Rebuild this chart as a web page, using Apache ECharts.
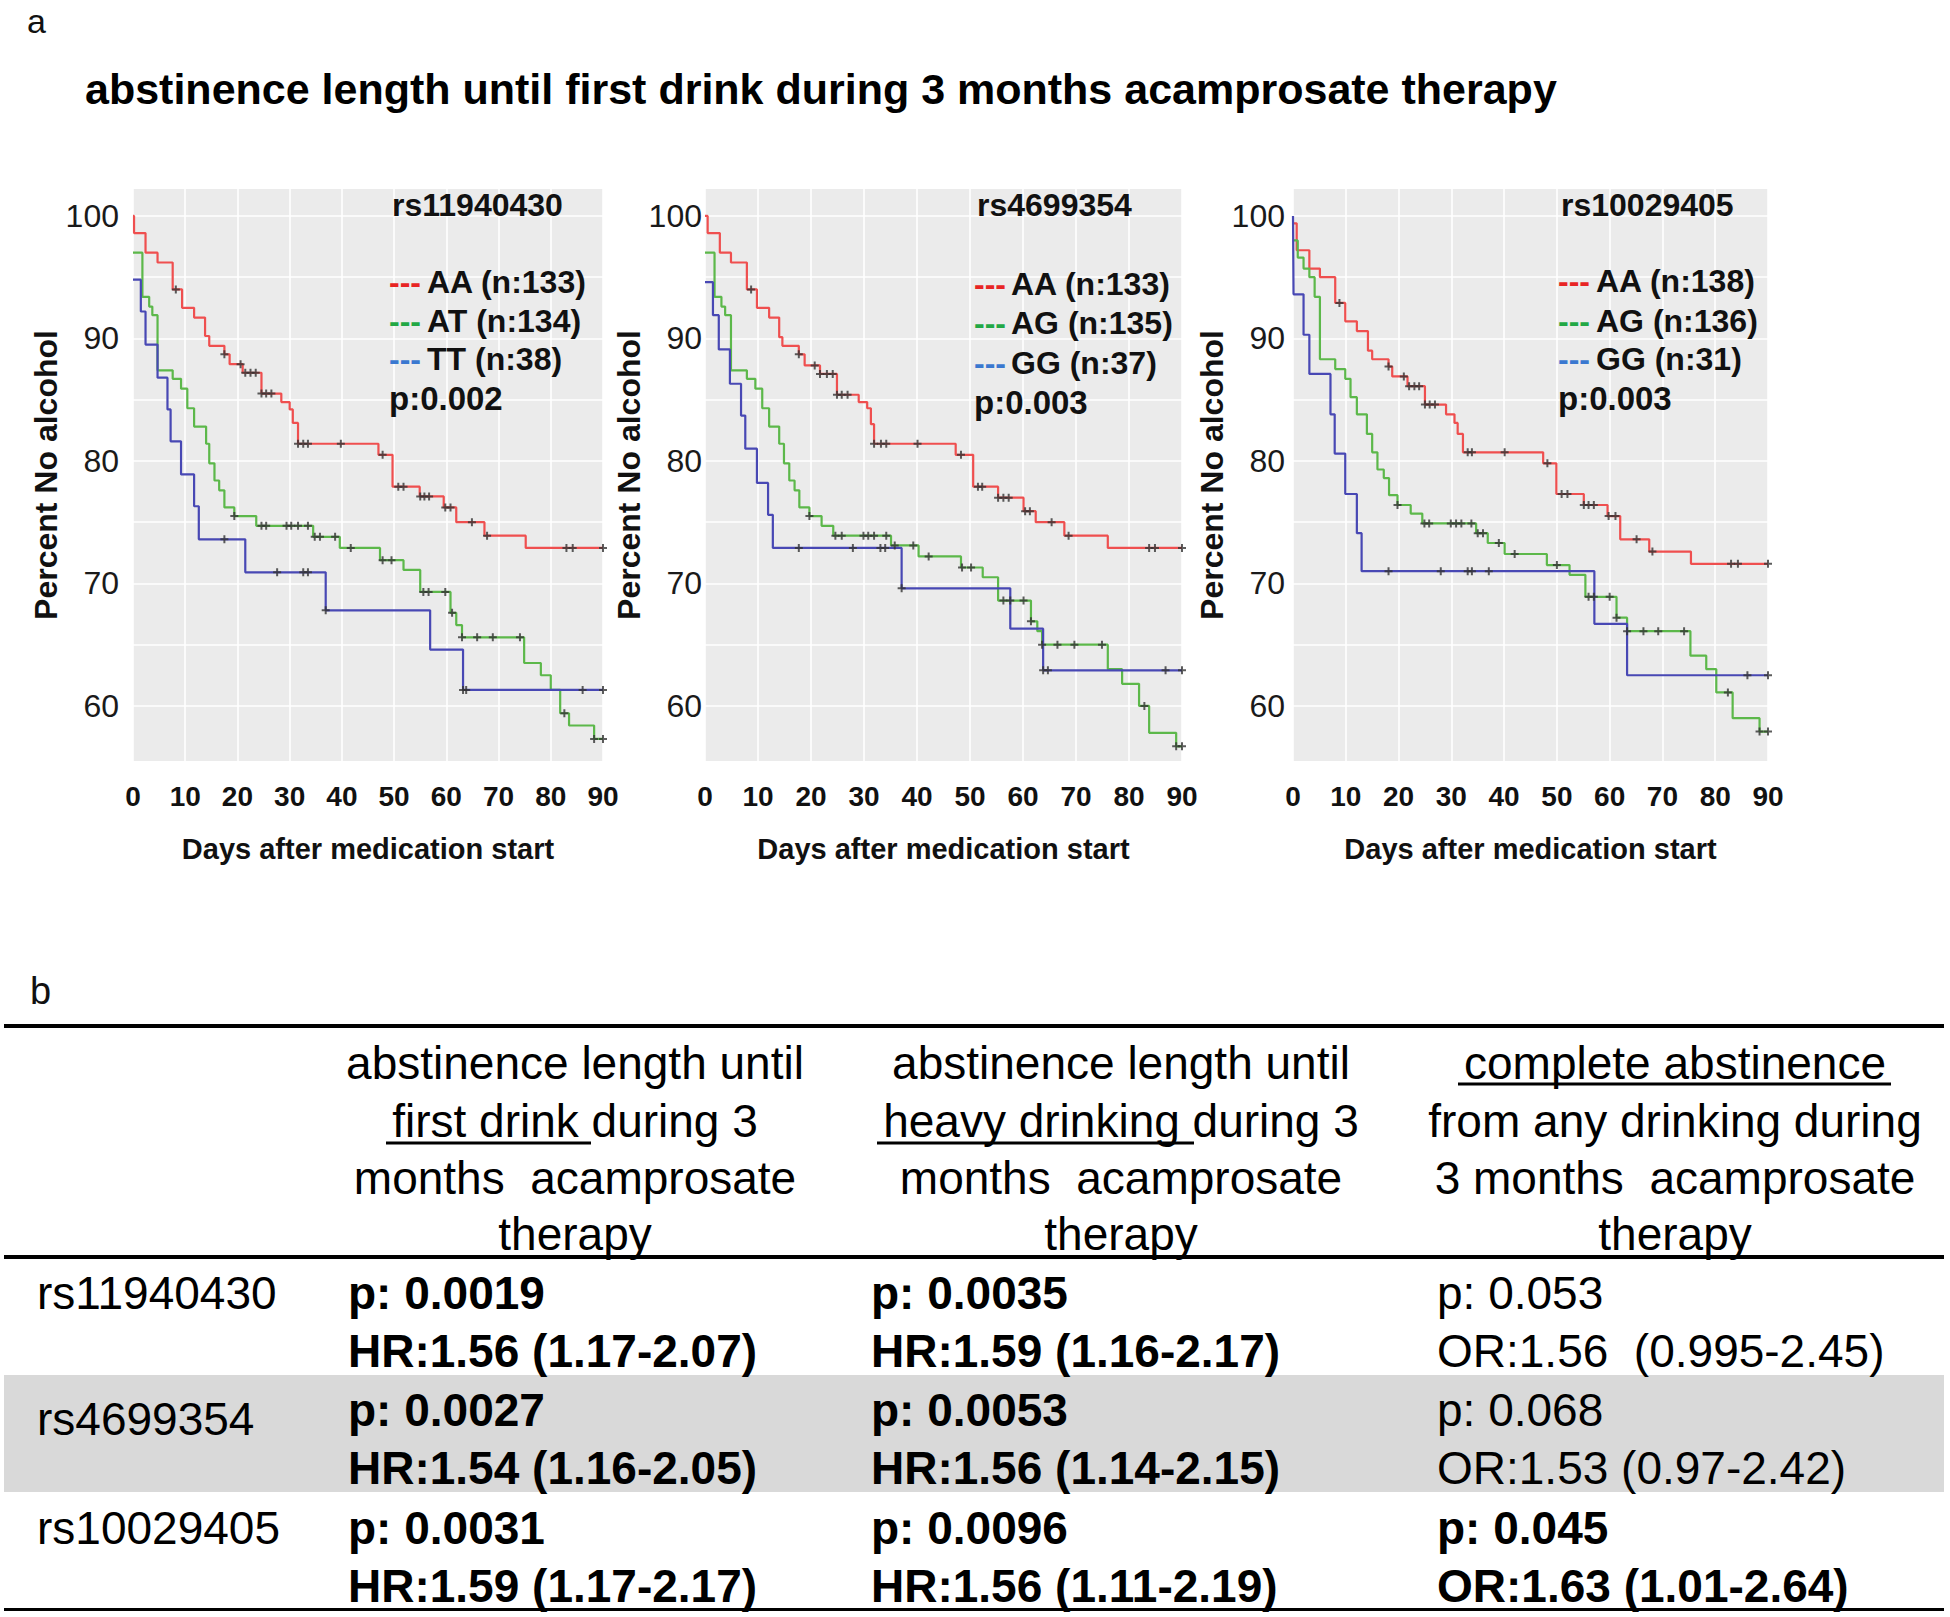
<!DOCTYPE html>
<html>
<head>
<meta charset="utf-8">
<title>abstinence length until first drink</title>
<script src="https://cdn.jsdelivr.net/npm/echarts@6/dist/echarts.min.js"></script>
<style>
  html, body { margin: 0; padding: 0; background: #fff; }
  #chart { width: 1950px; height: 1617px; }
</style>
</head>
<body>
<div id="chart"></div>
<script>
// ---------- panel a : Kaplan-Meier curves ----------
const snpNames = ["rs11940430", "rs4699354", "rs10029405"];
const genotypeLabels = [
  ["AA (n:133)", "AT (n:134)", "TT (n:38)"],
  ["AA (n:133)", "AG (n:135)", "GG (n:37)"],
  ["AA (n:138)", "AG (n:136)", "GG (n:31)"]
];
const logrankP = ["p:0.002", "p:0.003", "p:0.003"];
const yTickLabels = [60, 70, 80, 90, 100];
const yGridValues = [60, 65, 70, 75, 80, 85, 90, 95, 100];

// rs11940430
const rs1_AA_days = [0, 0.2, 2.4, 4.7, 7.6, 9.4, 11.7, 13.8, 14.6, 17.5, 18.5, 21.0, 24.6, 28.4, 30.0, 30.6, 31.6, 47.0, 49.7, 54.9, 59.5, 61.9, 67.3, 75.2, 90];
const rs1_AA_pct = [100, 98.6, 97.0, 96.2, 94.0, 92.5, 91.7, 90.2, 89.4, 88.7, 87.9, 87.2, 85.5, 84.8, 84.2, 83.1, 81.4, 80.5, 77.9, 77.1, 76.2, 75.0, 73.9, 72.9, 72.9];
const rs1_AA_cens = [8.2, 17.5, 20.6, 21.5, 22.5, 23.5, 24.6, 25.5, 26.5, 31.6, 32.6, 33.5, 39.8, 47.8, 50.8, 51.8, 55.0, 55.8, 56.7, 59.8, 60.8, 64.9, 67.8, 83.0, 84.2, 90];
const rs1_AT_days = [0, 1.8, 3.1, 3.7, 4.7, 7.6, 9.2, 10.4, 11.7, 14.0, 14.6, 15.6, 16.5, 17.5, 19.4, 23.6, 34.5, 39.6, 47.3, 51.8, 55.0, 60.8, 61.9, 63.0, 74.9, 78.1, 80.0, 81.8, 83.5, 88.3, 90];
const rs1_AT_pct = [97.0, 93.4, 92.6, 91.9, 87.4, 86.7, 85.9, 84.3, 82.8, 81.4, 79.8, 78.4, 77.6, 76.2, 75.5, 74.7, 73.8, 72.9, 71.9, 71.1, 69.3, 67.6, 66.6, 65.6, 63.5, 62.5, 61.3, 59.4, 58.4, 57.3, 57.3];
const rs1_AT_cens = [19.4, 24.6, 25.5, 29.4, 30.3, 31.6, 33.5, 34.8, 35.8, 38.7, 41.7, 47.8, 49.5, 55.6, 56.6, 59.8, 61.1, 63.0, 65.9, 68.9, 74.1, 82.6, 88.3, 90];
const rs1_TT_days = [0, 1.5, 2.4, 4.7, 6.6, 7.2, 9.2, 11.7, 12.6, 21.5, 36.9, 56.9, 63.2, 90];
const rs1_TT_pct = [94.8, 92.2, 89.5, 86.8, 84.2, 81.6, 78.9, 76.3, 73.6, 70.9, 67.8, 64.6, 61.3, 61.3];
const rs1_TT_cens = [17.5, 27.6, 32.6, 33.5, 36.9, 63.2, 63.8, 86.1, 90];

// rs4699354
const rs2_AA_days = [0, 0.5, 2.8, 4.9, 7.9, 9.8, 12.1, 14.0, 14.6, 17.7, 18.8, 21.7, 24.9, 29.0, 30.6, 31.3, 31.9, 47.3, 50.6, 55.3, 60.1, 62.4, 67.8, 76.0, 90];
const rs2_AA_pct = [100, 98.6, 97.0, 96.2, 94.0, 92.5, 91.7, 90.1, 89.4, 88.7, 87.8, 87.1, 85.4, 84.8, 84.3, 83.0, 81.4, 80.5, 77.9, 77.0, 75.9, 75.0, 73.9, 72.9, 72.9];
const rs2_AA_cens = [8.7, 17.7, 20.7, 21.7, 23.0, 24.1, 24.9, 25.8, 26.9, 31.9, 33.2, 34.2, 40.1, 48.3, 51.5, 52.3, 55.3, 56.3, 57.3, 60.4, 61.3, 65.4, 68.6, 83.8, 84.9, 90];
const rs2_AG_days = [0, 1.8, 3.1, 3.8, 4.9, 7.9, 9.5, 10.8, 12.1, 14.0, 14.9, 15.9, 16.9, 17.8, 19.7, 22.0, 24.2, 35.1, 40.3, 48.3, 52.4, 55.3, 61.5, 62.7, 63.6, 76.0, 78.7, 81.9, 83.8, 88.9, 90];
const rs2_AG_pct = [97.0, 93.4, 92.6, 91.9, 87.4, 86.7, 85.9, 84.3, 82.8, 81.4, 79.8, 78.4, 77.6, 76.2, 75.5, 74.7, 73.9, 73.1, 72.2, 71.3, 70.5, 68.6, 66.9, 66.1, 65.0, 63.0, 61.8, 60.0, 57.8, 56.7, 56.7];
const rs2_AG_cens = [19.7, 24.6, 25.8, 29.9, 30.8, 31.9, 34.2, 35.8, 39.3, 42.2, 48.5, 50.2, 56.3, 57.6, 60.1, 61.5, 63.6, 66.5, 69.7, 74.9, 82.9, 88.9, 90];
const rs2_GG_days = [0, 1.5, 2.6, 4.7, 6.8, 7.6, 9.8, 11.9, 12.8, 37.1, 57.6, 63.8, 90];
const rs2_GG_pct = [94.6, 91.9, 89.1, 86.3, 83.7, 81.0, 78.2, 75.6, 72.9, 69.6, 66.3, 62.9, 62.9];
const rs2_GG_cens = [17.7, 27.9, 33.1, 34.0, 37.1, 63.8, 64.7, 86.9, 90];

// rs10029405
const rs3_AA_days = [0, 0.7, 3.1, 5.1, 8.0, 9.9, 12.1, 14.2, 15.0, 18.1, 18.8, 21.7, 25.0, 29.0, 30.6, 31.2, 32.2, 47.4, 49.9, 55.1, 59.6, 62.0, 67.5, 75.4, 90];
const rs3_AA_pct = [99.4, 97.2, 95.7, 95.0, 92.9, 91.4, 90.6, 89.0, 88.3, 87.7, 86.9, 86.1, 84.6, 83.8, 83.1, 82.2, 80.7, 79.8, 77.3, 76.4, 75.5, 73.6, 72.6, 71.6, 71.6];
const rs3_AA_cens = [8.8, 18.1, 21.0, 22.0, 23.0, 23.9, 25.0, 25.9, 26.9, 33.1, 33.9, 40.1, 48.2, 50.9, 52.0, 55.1, 56.0, 57.0, 59.8, 61.1, 65.1, 68.1, 83.0, 84.3, 90];
const rs3_AG_days = [0, 0.9, 2.0, 3.1, 4.1, 5.1, 8.0, 9.9, 10.9, 12.1, 14.0, 15.0, 16.0, 17.2, 18.2, 19.8, 22.3, 24.5, 34.7, 36.9, 40.1, 48.1, 52.4, 55.4, 61.3, 63.3, 75.3, 78.3, 80.2, 83.3, 88.4, 90];
const rs3_AG_pct = [98.0, 96.6, 95.7, 95.0, 93.4, 88.3, 87.5, 86.7, 85.2, 83.8, 82.2, 80.7, 79.3, 78.6, 77.2, 76.4, 75.7, 74.9, 74.1, 73.3, 72.4, 71.5, 70.7, 68.9, 67.2, 66.1, 64.1, 63.0, 61.1, 59.0, 57.9, 57.9];
const rs3_AG_cens = [19.8, 24.9, 25.8, 29.9, 30.9, 31.9, 33.8, 35.0, 36.0, 39.0, 42.0, 50.0, 56.0, 57.0, 60.0, 61.3, 63.3, 66.4, 69.2, 74.1, 82.4, 88.4, 90];
const rs3_GG_days = [0, 0.1, 2.0, 3.1, 7.1, 7.9, 9.9, 12.1, 13.0, 57.1, 63.3, 90];
const rs3_GG_pct = [100, 93.6, 90.3, 87.1, 83.8, 80.6, 77.3, 74.1, 71.0, 66.7, 62.5, 62.5];
const rs3_GG_cens = [18.1, 28.0, 33.1, 33.9, 37.1, 86.1, 90];

// ---------- panel b : association table ----------
const tableSnps = ["rs11940430", "rs4699354", "rs10029405"];
const headFirstDrink = ["abstinence length until", "first drink during 3", "months  acamprosate", "therapy"];
const headHeavy = ["abstinence length until", "heavy drinking during 3", "months  acamprosate", "therapy"];
const headComplete = ["complete abstinence", "from any drinking during", "3 months  acamprosate", "therapy"];
const firstDrinkP = ["p: 0.0019", "p: 0.0027", "p: 0.0031"];
const firstDrinkHR = ["HR:1.56 (1.17-2.07)", "HR:1.54 (1.16-2.05)", "HR:1.59 (1.17-2.17)"];
const heavyP = ["p: 0.0035", "p: 0.0053", "p: 0.0096"];
const heavyHR = ["HR:1.59 (1.16-2.17)", "HR:1.56 (1.14-2.15)", "HR:1.56 (1.11-2.19)"];
const completeP = ["p: 0.053", "p: 0.068", "p: 0.045"];
const completeOR = ["OR:1.56  (0.995-2.45)", "OR:1.53 (0.97-2.42)", "OR:1.63 (1.01-2.64)"];
const completeBold = [false, false, true];

const FONT = '"Liberation Sans", Arial, sans-serif';
const lineColors = ["#ef4f4f", "#5cb84a", "#4848b4"];
const dashColors = ["#e82424", "#22a845", "#3a78d0"];

const curves = [
  [[rs1_AA_days, rs1_AA_pct, rs1_AA_cens], [rs1_AT_days, rs1_AT_pct, rs1_AT_cens], [rs1_TT_days, rs1_TT_pct, rs1_TT_cens]],
  [[rs2_AA_days, rs2_AA_pct, rs2_AA_cens], [rs2_AG_days, rs2_AG_pct, rs2_AG_cens], [rs2_GG_days, rs2_GG_pct, rs2_GG_cens]],
  [[rs3_AA_days, rs3_AA_pct, rs3_AA_cens], [rs3_AG_days, rs3_AG_pct, rs3_AG_cens], [rs3_GG_days, rs3_GG_pct, rs3_GG_cens]]
];

// panel boxes and per-panel text placement
const grids = [
  { left: 133, top: 189, width: 470, height: 572 },
  { left: 705, top: 189, width: 477, height: 572 },
  { left: 1293, top: 189, width: 475, height: 572 }
];
const yLabelMargin = [14, 3, 8];
const yNameGap = [65, 54, 56];
const legendX = [[389, 427], [974, 1011], [1558, 1596]];
const legendY = [[205, 282, 321, 359, 398], [205, 284, 323, 363, 402], [205, 281, 321, 359, 398]];

function survAt(days, pct, t) {
  let v = pct[0];
  for (let i = 0; i < days.length; i++) {
    if (days[i] <= t + 1e-9) v = pct[i];
  }
  return v;
}

const plusMark = "path://M3,0H5V3H8V5H5V8H3V5H0V3H3Z";

let xAxes = [], yAxes = [], series = [], graphics = [];

grids.forEach((g, k) => {
  xAxes.push({
    gridIndex: k, type: "value", min: 0, max: 90, interval: 10,
    axisLine: { show: false }, axisTick: { show: false },
    axisLabel: { fontSize: 28, fontWeight: "bold", color: "#111", margin: 21, fontFamily: FONT },
    splitLine: { lineStyle: { color: "#ffffff", width: 1.6 } },
    name: "Days after medication start", nameLocation: "middle", nameGap: 73,
    nameTextStyle: { fontSize: 29, fontWeight: "bold", color: "#111", fontFamily: FONT }
  });
  yAxes.push({
    gridIndex: k, type: "value", min: 55.5, max: 102.2,
    axisLine: { show: false },
    axisTick: { show: false, customValues: yGridValues },
    axisLabel: { customValues: yTickLabels, fontSize: 32, color: "#1a1a1a", margin: yLabelMargin[k], fontFamily: FONT },
    splitLine: { lineStyle: { color: "#ffffff", width: 1.6 } },
    name: "Percent No alcohol", nameLocation: "middle", nameGap: yNameGap[k],
    nameTextStyle: { fontSize: 32, fontWeight: "bold", color: "#111", fontFamily: FONT }
  });

  let cens = [];
  curves[k].forEach((c, j) => {
    const [days, pct, cs] = c;
    series.push({
      type: "line", xAxisIndex: k, yAxisIndex: k, step: "end",
      data: days.map((d, i) => [d, pct[i]]),
      showSymbol: false, clip: false, silent: true,
      lineStyle: { color: lineColors[j], width: 2.2 }
    });
    cs.forEach(t => cens.push([t, survAt(days, pct, t)]));
  });
  series.push({
    type: "scatter", xAxisIndex: k, yAxisIndex: k, data: cens,
    symbol: plusMark, symbolSize: 8, silent: true,
    itemStyle: { color: "#333" }, z: 5
  });

  // snp name, legend, p value inside the panel
  const [dx, tx] = legendX[k];
  const ys = legendY[k];
  graphics.push(txt(snpNames[k], dx + 3, ys[0], 32, "bold", "left", "#111"));
  genotypeLabels[k].forEach((lab, j) => {
    graphics.push(txt("---", dx, ys[j + 1], 32, "bold", "left", dashColors[j]));
    graphics.push(txt(lab, tx, ys[j + 1], 32, "bold", "left", "#111"));
  });
  graphics.push(txt(logrankP[k], dx, ys[4], 33, "bold", "left", "#111"));
});

function txt(s, x, y, size, weight, align, color) {
  return {
    type: "text", x: x, y: y, z: 10,
    style: {
      text: s, fill: color, fontSize: size, fontWeight: weight, fontFamily: FONT,
      align: align, textAlign: align, verticalAlign: "middle", textVerticalAlign: "middle"
    }
  };
}

graphics.push(txt("a", 27, 21, 34, "normal", "left", "#111"));
graphics.push(txt("abstinence length until first drink during 3 months acamprosate therapy", 85, 89, 43, "bold", "left", "#000"));

// ---- table ----
graphics.push(txt("b", 30, 991, 38, "normal", "left", "#111"));
graphics.push({ type: "rect", shape: { x: 4, y: 1375, width: 1940, height: 117 }, style: { fill: "#d9d9d9" } });
[[1024, 4], [1255, 4], [1608, 3]].forEach(r => {
  graphics.push({ type: "rect", shape: { x: 4, y: r[0], width: 1940, height: r[1] }, style: { fill: "#000" } });
});

const headY = [1063, 1121, 1178, 1234];
[[headFirstDrink, 575], [headHeavy, 1121], [headComplete, 1675]].forEach(h => {
  h[0].forEach((line, i) => graphics.push(txt(line, h[1], headY[i], 46, "normal", "center", "#000")));
});
// underlined header phrases
[[386, 591, 1143], [877, 1194, 1143], [1458, 1891, 1084]].forEach(u => {
  graphics.push({ type: "line", shape: { x1: u[0], y1: u[2], x2: u[1], y2: u[2] }, style: { stroke: "#000", lineWidth: 3 } });
});

const rowTop = [1293, 1410, 1528];
const rowGap = 58;
const snpLabelY = [1293, 1419, 1528];
tableSnps.forEach((s, i) => {
  const y1 = rowTop[i], y2 = rowTop[i] + rowGap;
  graphics.push(txt(s, 37, snpLabelY[i], 46, "normal", "left", "#000"));
  graphics.push(txt(firstDrinkP[i], 348, y1, 46, "bold", "left", "#000"));
  graphics.push(txt(firstDrinkHR[i], 348, y2, 46, "bold", "left", "#000"));
  graphics.push(txt(heavyP[i], 871, y1, 46, "bold", "left", "#000"));
  graphics.push(txt(heavyHR[i], 871, y2, 46, "bold", "left", "#000"));
  const w = completeBold[i] ? "bold" : "normal";
  graphics.push(txt(completeP[i], 1437, y1, 46, w, "left", "#000"));
  graphics.push(txt(completeOR[i], 1437, y2, 46, w, "left", "#000"));
});

const chart = echarts.init(document.getElementById("chart"), null, { renderer: "svg" });
chart.setOption({
  animation: false,
  backgroundColor: "#ffffff",
  textStyle: { fontFamily: FONT },
  grid: grids.map(g => Object.assign({ show: true, backgroundColor: "#ebebeb", borderWidth: 0, containLabel: false }, g)),
  xAxis: xAxes,
  yAxis: yAxes,
  series: series,
  graphic: graphics
});
</script>
</body>
</html>
